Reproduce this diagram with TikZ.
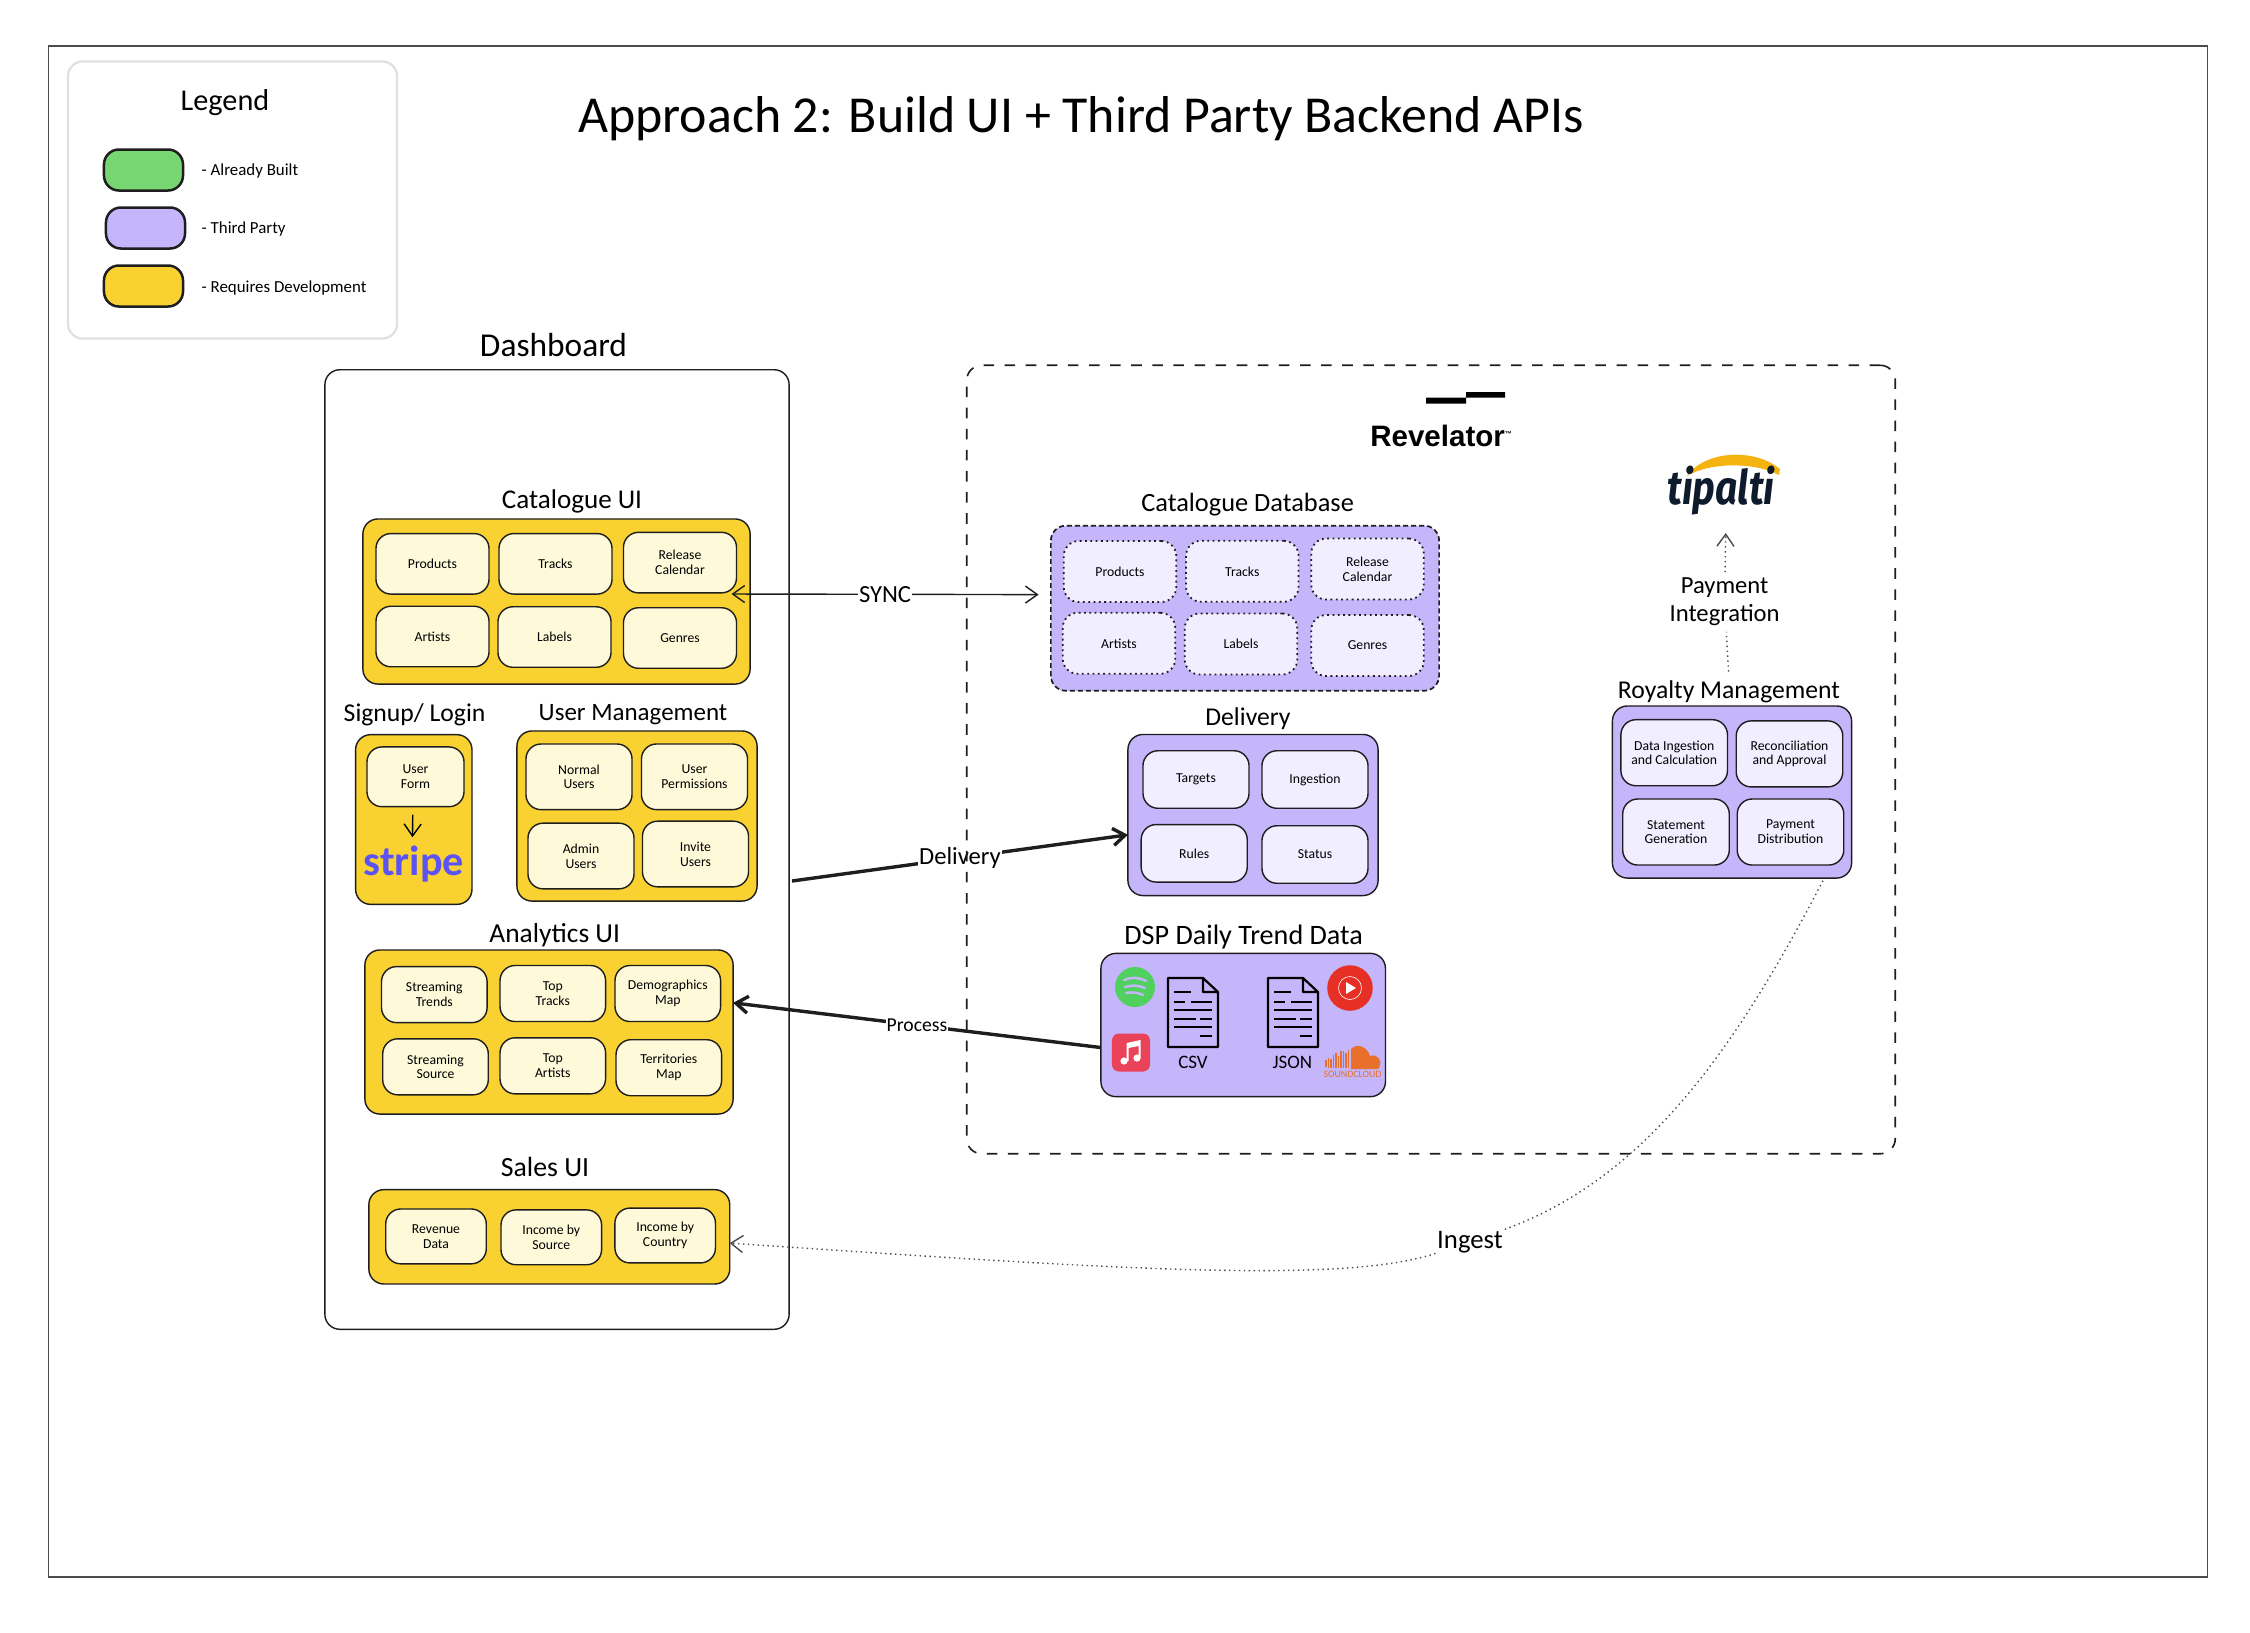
\documentclass[tikz,border=0pt]{standalone}
\usepackage{fontspec}
\setmainfont{Carlito}
\newfontfamily\revfont{Liberation Sans}
\newfontfamily\tipfont{Fira Sans}
\usetikzlibrary{arrows.meta}
\definecolor{inkline}{HTML}{1E1E1E}
\definecolor{devyellow}{HTML}{F9D232}
\definecolor{devcell}{HTML}{FEF9D9}
\definecolor{partypurple}{HTML}{C5B6FC}
\definecolor{partycell}{HTML}{F0EEFF}
\definecolor{builtgreen}{HTML}{77D672}
\definecolor{spotgreen}{HTML}{4FD05F}
\definecolor{ytred}{HTML}{E63025}
\definecolor{applered}{HTML}{EA4258}
\definecolor{cloudorange}{HTML}{E8702A}
\definecolor{tipgold}{HTML}{F5B30F}
\definecolor{tipnavy}{HTML}{0E1B2D}
\definecolor{stripeblue}{HTML}{5B53F5}
\tikzset{>={Straight Barb[length=0.12cm,width=0.17cm]}, line width=0.014cm,
  x=0.01cm, y=-0.01cm,
  box/.style={rectangle,draw=inkline,rounded corners=0.15cm,inner sep=0pt,outer sep=0pt,align=center},
  swatch/.style={box,line width=0.025cm,minimum width=0.79cm,minimum height=0.41cm},
  devgroup/.style={box,fill=devyellow},
  partygroup/.style={box,fill=partypurple},
  cell/.style={box,font=\fontsize{3.9}{4.2}\selectfont},
  devcell/.style={cell,fill=devcell},
  partycell/.style={cell,fill=partycell},
  dotcell/.style={partycell,densely dotted,line width=0.018cm},
  grouptitle/.style={inner sep=0pt,align=center,font=\fontsize{7.3}{7.3}\selectfont},
  legendtext/.style={inner sep=0pt,anchor=west,font=\fontsize{4.8}{5}\selectfont},
  edgelabel/.style={fill=white,inner sep=0.01cm,align=center,font=\fontsize{7}{8}\selectfont},
  heavy/.style={line width=0.034cm,draw=inkline},
  faint/.style={densely dotted,line width=0.014cm,draw=black!70},
  docicon/.pic={
    \draw[line width=0.022cm,line join=round]
      (0,0) -- (35,0) -- (50,14) -- (50,69) -- (0,69) -- cycle (35,0) -- (35,14) -- (50,14);
    \draw[line width=0.022cm]
      (6,14) -- (23,14) (6,24) -- (17,24) (23,24) -- (44,24) (6,32) -- (44,32)
      (6,41) -- (28,41) (32,41) -- (44,41) (6,49) -- (44,49) (32,58) -- (44,58);
  }
}

\begin{document}
\begin{tikzpicture}
  \useasboundingbox[fill=white] (0,0) rectangle (2250,1632);

  % Frame and title
  \node[rectangle,draw=black!70,minimum width=21.58cm,minimum height=15.3cm,inner sep=0pt] (frame) at (1128,811.5) {};
  \node[inner sep=0pt,font=\fontsize{14.75}{14.75}\selectfont] (title) at (1081,119) {Approach 2: Build UI + Third Party Backend APIs};

  % Legend
  \node[box,draw=black!12,line width=0.022cm,minimum width=3.29cm,minimum height=2.77cm] (legend) at (232.5,200) {};
  \node[inner sep=0pt,font=\fontsize{8.6}{8.6}\selectfont] (legendtitle) at (225,103) {Legend};
  \node[swatch,fill=builtgreen] (swbuilt) at (143.5,170) {};
  \node[swatch,fill=partypurple] (swparty) at (145.5,228) {};
  \node[swatch,fill=devyellow] (swdev) at (143.5,286) {};
  \node[legendtext] (txbuilt) at (201,171) {- Already Built};
  \node[legendtext] (txparty) at (201,229) {- Third Party};
  \node[legendtext] (txdev) at (201,288) {- Requires Development};

  % Dashboard
  \node[box,minimum width=4.64cm,minimum height=9.59cm] (dashboard) at (557,849.5) {};
  \node[inner sep=0pt,font=\fontsize{9.5}{9.5}\selectfont] (dashtitle) at (553.5,345) {Dashboard};

  % Catalogue UI
  \node[grouptitle,font=\fontsize{7.7}{7.7}\selectfont] (catuititle) at (572,501) {Catalogue UI};
  \node[devgroup,minimum width=3.87cm,minimum height=1.65cm] (catui) at (556.5,601.5) {};
  \tikzset{catcell/.style={devcell,minimum width=1.13cm,minimum height=0.605cm}}
  \node[catcell] (uiproducts) at (432.5,563.8) {Products};
  \node[catcell] (uitracks) at (555.5,563.8) {Tracks};
  \node[catcell] (uirelease) at (680,562.6) {Release\\Calendar};
  \node[catcell] (uiartists) at (432.5,636.5) {Artists};
  \node[catcell] (uilabels) at (554.5,637) {Labels};
  \node[catcell] (uigenres) at (680,638) {Genres};

  % Signup / Login
  \node[grouptitle] (signuptitle) at (414.6,714.7) {Signup/ Login};
  \node[devgroup,minimum width=1.163cm,minimum height=1.696cm] (signup) at (413.8,819.5) {};
  \node[devcell,minimum width=0.97cm,minimum height=0.597cm] (userform) at (415.5,776.8) {User\\Form};
  \node[inner sep=0pt,text=stripeblue,font=\bfseries\fontsize{12}{12}\selectfont] (stripe) at (414,864) {stripe};
  \draw[->,shorten <=0.08cm,shorten >=0.08cm] (userform.265) -- (stripe.95);

  % User Management
  \node[grouptitle,font=\fontsize{7.1}{7.1}\selectfont] (usertitle) at (633,714.7) {User Management};
  \node[devgroup,minimum width=2.4cm,minimum height=1.7cm] (usermgmt) at (637,816) {};
  \tikzset{usercell/.style={devcell,minimum width=1.06cm,minimum height=0.656cm}}
  \node[usercell] (normalusers) at (579,776.8) {Normal\\Users};
  \node[usercell] (userperms) at (694.5,776.8) {User\\Permissions};
  \node[usercell] (adminusers) at (581,856) {Admin\\Users};
  \node[usercell] (inviteusers) at (695.5,854) {Invite\\Users};

  % Analytics UI
  \node[grouptitle,font=\fontsize{7.8}{7.8}\selectfont] (analyticstitle) at (554.7,935) {Analytics UI};
  \node[devgroup,minimum width=3.68cm,minimum height=1.64cm] (analytics) at (549,1032) {};
  \tikzset{anacell/.style={devcell,minimum width=1.055cm,minimum height=0.56cm}}
  \node[anacell] (streamtrends) at (434.3,994.6) {Streaming\\Trends};
  \node[anacell] (toptracks) at (552.8,993.5) {Top\\Tracks};
  \node[anacell] (demomap) at (667.8,993.5) {Demographics\\Map};
  \node[anacell] (streamsource) at (435.5,1066.8) {Streaming\\Source};
  \node[anacell] (topartists) at (552.8,1065.8) {Top\\Artists};
  \node[anacell] (terrmap) at (668.8,1067.7) {Territories\\Map};

  % Sales UI
  \node[grouptitle,font=\fontsize{7.9}{7.9}\selectfont] (salestitle) at (545,1167) {Sales UI};
  \node[devgroup,minimum width=3.607cm,minimum height=0.943cm] (sales) at (549.3,1236.8) {};
  \tikzset{salecell/.style={devcell,minimum width=1.005cm,minimum height=0.548cm}}
  \node[salecell] (revenue) at (436,1236.4) {Revenue\\Data};
  \node[salecell] (incomesource) at (551.3,1237.3) {Income by\\Source};
  \node[salecell] (incomecountry) at (665.2,1235.5) {Income by\\Country};

  % Revelator logo
  \fill[black] (1426,397.5) rectangle (1466,403.6) (1466,392) rectangle (1505,397.5);
  \node[inner sep=0pt,font=\revfont\bfseries\fontsize{8.4}{8.4}\selectfont] (revelator) at (1442,436) {Revelator\textsuperscript{\fontsize{2}{2}\selectfont ™}};

  % Tipalti logo
  \fill[tipgold] (1687,476) .. controls (1705,450) and (1755,448) .. (1780,469)
    -- (1779,475) .. controls (1755,462) and (1710,462) .. (1687,476) -- cycle;
  \node[inner sep=0pt,xscale=0.82,text=tipnavy,font=\tipfont\bfseries\itshape\fontsize{13.5}{13.5}\selectfont] (tipalti) at (1721,491) {tipalti};

  % Catalogue Database
  \node[grouptitle,font=\fontsize{7.5}{7.5}\selectfont] (catdbtitle) at (1247.6,505) {Catalogue Database};
  \node[partygroup,dash pattern=on 0.05cm off 0.03cm,line width=0.017cm,minimum width=3.88cm,minimum height=1.65cm] (catdb) at (1245,608.2) {};
  \tikzset{dbcell/.style={dotcell,minimum width=1.125cm,minimum height=0.61cm}}
  \node[dbcell] (dbproducts) at (1120,571.5) {Products};
  \node[dbcell] (dbtracks) at (1242.3,571.3) {Tracks};
  \node[dbcell] (dbrelease) at (1367.5,569) {Release\\Calendar};
  \node[dbcell] (dbartists) at (1119,643.3) {Artists};
  \node[dbcell] (dblabels) at (1241,644) {Labels};
  \node[dbcell] (dbgenres) at (1367.5,645.5) {Genres};

  % Delivery
  \node[grouptitle] (deliverytitle) at (1248,719) {Delivery};
  \node[partygroup,minimum width=2.5cm,minimum height=1.61cm] (delivery) at (1253,815) {};
  \tikzset{delcell/.style={partycell,minimum width=1.06cm,minimum height=0.575cm}}
  \node[delcell] (targets) at (1196,779.5) {Targets};
  \node[delcell] (ingestion) at (1315,779.5) {Ingestion};
  \node[delcell] (rules) at (1194.2,853.3) {Rules};
  \node[delcell] (status) at (1315,854.5) {Status};

  % DSP Daily Trend Data
  \node[grouptitle,font=\fontsize{8}{8}\selectfont] (dsptitle) at (1243.6,937) {DSP Daily Trend Data};
  \node[partygroup,minimum width=2.844cm,minimum height=1.432cm] (dsp) at (1243.2,1025) {};
  % Spotify
  \node[circle,fill=spotgreen,minimum size=0.4cm,inner sep=0pt] (spotify) at (1135,987) {};
  \draw[partypurple,line width=0.025cm,line cap=round]
    (1124,980) .. controls (1131,977) and (1139,977) .. (1146,981)
    (1125,987) .. controls (1131,985) and (1138,985) .. (1145,988)
    (1126,993) .. controls (1131,992) and (1137,992) .. (1143,995);
  % Apple Music
  \node[rectangle,fill=applered,rounded corners=0.07cm,minimum width=0.38cm,minimum height=0.38cm,inner sep=0pt] (apple) at (1131,1052.5) {};
  \fill[white] (1124,1061) circle[radius=3.6] (1137,1058) circle[radius=3.6];
  \fill[white] (1126.5,1061) -- (1126.5,1043) -- (1140.5,1040) -- (1140.5,1058) -- (1138.5,1058)
    -- (1138.5,1046) -- (1128.5,1048) -- (1128.5,1061) -- cycle;
  % YouTube Music
  \node[circle,fill=ytred,minimum size=0.455cm,inner sep=0pt] (ytmusic) at (1350,988) {};
  \node[circle,draw=white,line width=0.006cm,minimum size=0.23cm,inner sep=0pt] (ytring) at (ytmusic) {};
  \fill[white] (1346,982) -- (1356,988) -- (1346,994) -- cycle;
  % SoundCloud
  \draw[cloudorange,line width=0.012cm]
    (1326,1060) -- (1326,1067) (1328.5,1058) -- (1328.5,1068) (1331,1059) -- (1331,1068)
    (1333.5,1055) -- (1333.5,1068) (1336,1053) -- (1336,1068) (1338.5,1056) -- (1338.5,1068)
    (1341,1051) -- (1341,1068) (1343.5,1051) -- (1343.5,1068) (1346,1053) -- (1346,1068)
    (1348.5,1050) -- (1348.5,1068);
  \fill[cloudorange] (1351,1049) .. controls (1358,1042) and (1368,1048) .. (1370,1056)
    .. controls (1378,1053) and (1382,1062) .. (1380,1065) .. controls (1379,1069) .. (1375,1069)
    -- (1351,1069) -- cycle;
  \node[inner sep=0pt,text=cloudorange,font=\fontsize{2.8}{3}\selectfont] (soundcloud) at (1352.5,1074) {SOUNDCLOUD};
  % Files
  \pic at (1168,978) {docicon};
  \pic at (1268,978) {docicon};
  \node[inner sep=0pt,font=\fontsize{5.4}{6}\selectfont] (csv) at (1193,1062) {CSV};
  \node[inner sep=0pt,font=\fontsize{5.4}{6}\selectfont] (json) at (1292.4,1062) {JSON};

  % Royalty Management
  \node[grouptitle] (royaltytitle) at (1729,691.4) {Royalty Management};
  \node[partygroup,minimum width=2.39cm,minimum height=1.72cm] (royalty) at (1732,792) {};
  \tikzset{roycell/.style={partycell,minimum width=1.065cm,minimum height=0.66cm}}
  \node[roycell] (dataingest) at (1674.2,752.7) {Data Ingestion\\and Calculation};
  \node[roycell] (reconcile) at (1789.5,753.9) {Reconciliation\\and Approval};
  \node[roycell] (statement) at (1676,832) {Statement\\Generation};
  \node[roycell] (paydist) at (1790.5,832) {Payment\\Distribution};

  % Payment Integration
  \node[edgelabel] (paylabel) at (1724.6,602) {Payment\\Integration};
  \coordinate (paytip) at (1725.7,533);
  \draw[faint,shorten <=0.08cm,shorten >=0.04cm] (royaltytitle.north) -- (paylabel);
  \draw[faint,->,shorten <=0.04cm] (paylabel) -- (paytip);

  % Sync
  \coordinate (syncleft) at (731.5,594);
  \coordinate (syncright) at (1038.6,594.6);
  \draw[<->,draw=inkline] (syncleft) -- node[edgelabel] (synclabel) {SYNC} (syncright);

  % Delivery and process
  \coordinate (deliverystart) at (792,881);
  \draw[heavy,->] (deliverystart) -- node[edgelabel] (deliverylabel) {Delivery} (delivery.189);
  \draw[heavy,->] (dsp.189.2) -- node[edgelabel,font=\fontsize{5.6}{6.6}\selectfont] (processlabel) {Process} (analytics.9.1);

  % Ingest
  \node[edgelabel,fill=none,font=\fontsize{7.6}{8}\selectfont] (ingestlabel) at (1470,1242) {Ingest};
  \draw[faint,shorten <=0.03cm] (royalty.317) .. controls (1730,1060) and (1640,1180) .. (ingestlabel);
  \draw[faint,->] (ingestlabel) .. controls (1340,1285) and (1100,1268) .. (sales.358);

  % Third party boundary
  \node[box,dashed,line width=0.016cm,minimum width=9.28cm,minimum height=7.88cm] (thirdparty) at (1431,759.5) {};
\end{tikzpicture}
\end{document}
